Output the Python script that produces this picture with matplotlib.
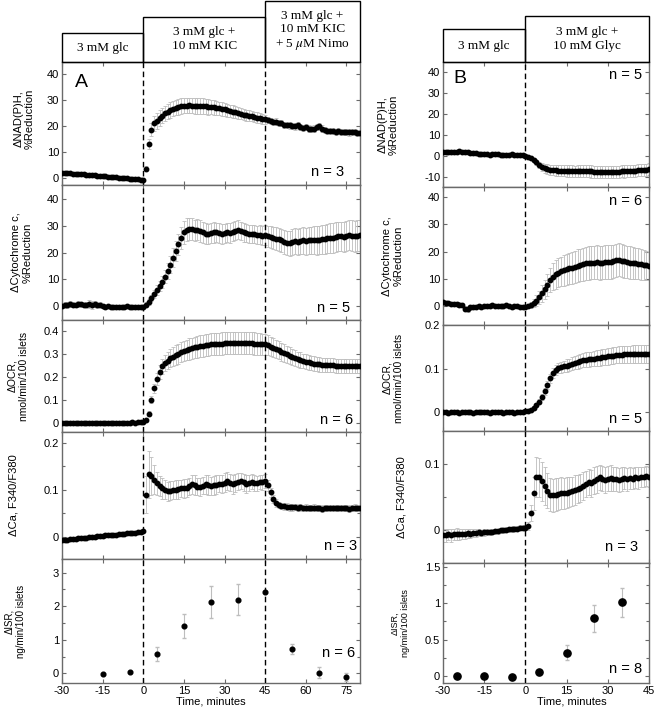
import numpy as np
import matplotlib
matplotlib.use("Agg")
import matplotlib.pyplot as plt
from matplotlib.patches import Rectangle
from matplotlib.ticker import FixedLocator, MultipleLocator
import matplotlib.transforms as mtransforms

plt.rcParams['font.family'] = ['Liberation Sans', 'DejaVu Sans']
plt.rcParams['mathtext.fontset'] = 'stix'

# ---------------- data: column A (glc + KIC, then Nimo) ----------------
time_A = np.arange(-30, 81)          # minutes, 1-min sampling
nadh_A = [2.0, 1.9, 1.9, 1.8, 1.7, 1.6, 1.6, 1.5, 1.4, 1.3,
          1.2, 1.1, 1.0, 0.9, 0.8, 0.7, 0.6, 0.5, 0.4, 0.3,
          0.2, 0.1, 0.0, -0.1, -0.2, -0.3, -0.3, -0.4, -0.5, -0.6,
          -0.7,
          3.5, 13.0, 18.5, 21.0, 22.0, 23.0, 24.0, 24.8, 25.5, 26.2,
          26.7, 27.1, 27.4, 27.6, 27.8, 27.8, 27.9, 27.8, 27.7, 27.7,
          27.6, 27.6, 27.5, 27.4, 27.3, 27.2, 27.0, 26.8, 26.6, 26.4,
          26.1, 25.8, 25.5, 25.2, 25.0, 24.7, 24.4, 24.2, 24.0, 23.8,
          23.5, 23.2, 23.0, 22.8, 22.5, 22.2, 21.8, 21.5, 21.7, 21.2,
          21.0, 20.5, 20.3, 20.2, 20.0, 19.8, 20.2, 19.5, 19.3, 19.5,
          19.0, 18.8, 19.0, 19.5, 19.8, 19.0, 18.5, 18.2, 18.0, 18.0,
          17.8, 18.0, 17.8, 17.6, 17.8, 17.5, 17.6, 17.8, 17.3, 17.2]
nadh_A_err = [0.4, 0.4, 0.4, 0.4, 0.4, 0.4, 0.4, 0.4, 0.4, 0.4,
              0.4, 0.4, 0.4, 0.4, 0.4, 0.4, 0.4, 0.4, 0.4, 0.4,
              0.4, 0.4, 0.4, 0.4, 0.4, 0.4, 0.4, 0.4, 0.4, 0.4,
              0.4,
              1.0, 2.0, 2.5, 2.8, 3.0, 3.0, 3.0, 3.0, 3.0, 3.0,
              3.0, 3.0, 3.0, 3.0, 3.0, 3.0, 3.0, 3.0, 3.0, 3.0,
              3.0, 3.0, 3.0, 3.0, 2.8, 2.8, 2.7, 2.6, 2.6, 2.5,
              2.5, 2.4, 2.4, 2.3, 2.3, 2.2, 2.2, 2.1, 2.1, 2.0,
              2.0, 2.0, 1.9, 1.9, 1.8, 1.2, 1.2, 1.2, 1.2, 1.2,
              1.2, 1.2, 1.2, 1.2, 1.2, 1.2, 1.2, 1.2, 1.2, 1.2,
              1.2, 1.2, 1.2, 1.2, 1.2, 1.2, 1.2, 1.2, 1.2, 1.2,
              1.2, 1.2, 1.2, 1.2, 1.2, 1.2, 1.2, 1.2, 1.2, 1.2]
cyt_A = [0.0, 0.5, 0.3, 0.8, 0.5, 0.3, 0.8, 0.6, 0.2, 0.5,
         0.8, 0.4, 0.6, 0.2, 0.5, 0.0, -0.3, -0.2, -0.5, -0.3,
         -0.5, -0.4, -0.3, -0.5, -0.2, -0.4, -0.6, -0.5, -0.4, -0.6,
         -0.5,
         0.5, 1.5, 3.0, 4.5, 6.0, 7.5, 9.0, 11.0, 13.0, 15.5,
         18.0, 20.5, 23.0, 25.5, 27.5, 28.5, 28.7, 28.8, 28.3, 28.5,
         28.0, 27.5, 27.0, 26.8, 27.2, 27.5, 27.5, 27.3, 27.0, 27.2,
         27.5, 27.3, 27.8, 28.2, 28.5, 28.0, 27.5, 27.3, 27.0, 27.0,
         26.8, 26.5, 26.7, 26.3, 26.5, 26.0, 25.8, 25.5, 25.2, 25.0,
         24.5, 24.0, 23.5, 23.5, 24.0, 24.2, 24.0, 24.3, 24.5, 24.2,
         24.5, 24.5, 24.7, 24.5, 24.8, 25.0, 25.0, 25.3, 25.5, 25.5,
         25.8, 26.0, 26.0, 25.8, 26.2, 26.5, 26.3, 26.0, 26.3, 26.5]
cyt_A_err = [0.8, 0.9, 1.0, 1.2, 1.0, 0.9, 1.1, 1.0, 0.8, 0.9,
             1.5, 1.4, 1.2, 1.0, 0.9, 0.8, 0.8, 0.7, 0.8, 0.7,
             0.7, 0.6, 0.7, 0.6, 0.6, 0.7, 0.6, 0.6, 0.6, 0.6,
             0.6,
             0.8, 1.0, 1.2, 1.5, 1.8, 2.0, 2.3, 2.6, 2.9, 3.2,
             3.5, 3.8, 4.0, 4.2, 4.3, 4.3, 4.2, 4.0, 4.0, 4.0,
             4.0, 3.9, 3.9, 3.8, 3.8, 3.8, 3.7, 3.7, 3.7, 3.6,
             3.6, 3.6, 3.5, 3.6, 3.6, 3.5, 3.5, 3.5, 3.4, 3.4,
             3.4, 3.4, 3.5, 3.6, 3.7, 3.9, 4.0, 4.1, 4.2, 4.3,
             4.4, 4.5, 4.6, 4.7, 4.8, 4.8, 4.9, 5.0, 5.0, 5.1,
             5.1, 5.2, 5.2, 5.3, 5.3, 5.4, 5.4, 5.5, 5.5, 5.5,
             5.6, 5.6, 5.6, 5.7, 5.7, 5.7, 5.8, 5.8, 5.8, 5.8]
ocr_A = [0.000, 0.001, -0.001, 0.000, 0.001, 0.000, -0.001, 0.000, 0.000, 0.001,
         0.000, -0.001, 0.000, 0.001, 0.000, 0.000, 0.001, -0.001, 0.000, 0.001,
         0.000, 0.001, 0.000, 0.000, 0.001, 0.001, 0.002, 0.001, 0.002, 0.003,
         0.005,
         0.010, 0.040, 0.100, 0.150, 0.190, 0.220, 0.245, 0.260, 0.270, 0.280,
         0.287, 0.294, 0.300, 0.306, 0.311, 0.316, 0.320, 0.324, 0.327, 0.330,
         0.333, 0.335, 0.337, 0.339, 0.340, 0.341, 0.342, 0.343, 0.344, 0.345,
         0.345, 0.346, 0.346, 0.346, 0.346, 0.346, 0.345, 0.345, 0.345, 0.345,
         0.344, 0.343, 0.342, 0.341, 0.340, 0.336, 0.331, 0.326, 0.320, 0.315,
         0.309, 0.303, 0.297, 0.291, 0.286, 0.281, 0.276, 0.272, 0.268, 0.265,
         0.262, 0.259, 0.257, 0.255, 0.253, 0.252, 0.251, 0.250, 0.249, 0.249,
         0.248, 0.248, 0.248, 0.248, 0.248, 0.248, 0.248, 0.248, 0.248, 0.248]
ocr_A_err = [0.003, 0.004, 0.003, 0.003, 0.004, 0.003, 0.003, 0.003, 0.004, 0.003,
             0.003, 0.004, 0.003, 0.003, 0.004, 0.003, 0.003, 0.003, 0.004, 0.003,
             0.003, 0.004, 0.003, 0.003, 0.004, 0.003, 0.003, 0.003, 0.004, 0.003,
             0.003,
             0.005, 0.010, 0.015, 0.020, 0.025, 0.030, 0.033, 0.036, 0.038, 0.040,
             0.041, 0.042, 0.043, 0.044, 0.045, 0.045, 0.046, 0.046, 0.047, 0.047,
             0.047, 0.048, 0.048, 0.048, 0.048, 0.048, 0.048, 0.048, 0.048, 0.048,
             0.048, 0.048, 0.048, 0.048, 0.048, 0.048, 0.048, 0.048, 0.048, 0.048,
             0.048, 0.047, 0.047, 0.046, 0.045, 0.044, 0.043, 0.042, 0.041, 0.040,
             0.039, 0.038, 0.037, 0.036, 0.035, 0.034, 0.033, 0.033, 0.032, 0.032,
             0.031, 0.031, 0.031, 0.031, 0.031, 0.030, 0.030, 0.030, 0.030, 0.030,
             0.030, 0.030, 0.030, 0.030, 0.030, 0.030, 0.030, 0.030, 0.030, 0.030]
ca_A = [-0.007, -0.007, -0.006, -0.005, -0.005, -0.004, -0.003, -0.003, -0.002, -0.002,
        -0.001, 0.000, 0.000, 0.001, 0.002, 0.002, 0.003, 0.003, 0.004, 0.004,
        0.005, 0.006, 0.006, 0.007, 0.008, 0.008, 0.009, 0.009, 0.010, 0.011,
        0.012,
        0.090, 0.133, 0.130, 0.122, 0.114, 0.108, 0.103, 0.100, 0.097, 0.098,
        0.099, 0.100, 0.101, 0.103, 0.103, 0.104, 0.108, 0.112, 0.110, 0.107,
        0.106, 0.109, 0.112, 0.110, 0.108, 0.110, 0.111, 0.113, 0.112, 0.115,
        0.118, 0.115, 0.112, 0.114, 0.117, 0.118, 0.116, 0.113, 0.115, 0.117,
        0.115, 0.114, 0.117, 0.116, 0.118, 0.110, 0.095, 0.080, 0.072, 0.068,
        0.066, 0.065, 0.064, 0.063, 0.063, 0.063, 0.062, 0.063, 0.062, 0.062,
        0.061, 0.061, 0.062, 0.061, 0.061, 0.060, 0.061, 0.062, 0.061, 0.061,
        0.062, 0.061, 0.061, 0.062, 0.061, 0.060, 0.061, 0.062, 0.061, 0.062]
ca_A_err = [0.002, 0.002, 0.002, 0.002, 0.002, 0.002, 0.002, 0.002, 0.002, 0.002,
            0.002, 0.002, 0.002, 0.002, 0.002, 0.002, 0.002, 0.002, 0.002, 0.002,
            0.002, 0.002, 0.002, 0.002, 0.002, 0.002, 0.002, 0.002, 0.002, 0.002,
            0.002,
            0.040, 0.050, 0.040, 0.030, 0.025, 0.022, 0.022, 0.020, 0.020, 0.020,
            0.019, 0.020, 0.021, 0.019, 0.020, 0.020, 0.018, 0.020, 0.021, 0.019,
            0.020, 0.018, 0.020, 0.021, 0.019, 0.020, 0.020, 0.018, 0.019, 0.020,
            0.019, 0.018, 0.020, 0.019, 0.018, 0.017, 0.018, 0.019, 0.017, 0.016,
            0.017, 0.016, 0.015, 0.016, 0.015, 0.012, 0.010, 0.008, 0.008, 0.007,
            0.007, 0.007, 0.007, 0.007, 0.007, 0.006, 0.007, 0.007, 0.006, 0.007,
            0.007, 0.006, 0.007, 0.007, 0.006, 0.007, 0.007, 0.006, 0.007, 0.007,
            0.006, 0.007, 0.007, 0.006, 0.007, 0.007, 0.006, 0.007, 0.007, 0.006]
isr_A_time = [-15, -5, 5, 15, 25, 35, 45, 55, 65, 75]
isr_A = [-0.03, 0.03, 0.58, 1.42, 2.12, 2.19, 2.43, 0.72, 0.02, -0.12]
isr_A_err = [0.02, 0.02, 0.20, 0.36, 0.48, 0.46, 0.02, 0.15, 0.17, 0.12]

# ---------------- data: column B (glc + Glyc) ----------------
time_B = np.arange(-30, 46)
nadh_B = [1.5, 1.6, 1.5, 1.8, 1.7, 1.9, 2.0, 1.8, 1.9, 1.5,
          1.4, 1.2, 1.0, 0.8, 0.5, 0.8, 0.6, 0.3, 0.5, 0.7,
          0.5, 0.4, 0.3, 0.2, 0.3, 0.5, 0.4, 0.3, 0.2, 0.1,
          0.0,
          -0.5, -1.3, -2.2, -3.3, -4.5, -5.3, -6.0, -6.5, -6.8, -7.0,
          -7.1, -7.2, -7.3, -7.3, -7.4, -7.3, -7.4, -7.5, -7.4, -7.3,
          -7.2, -7.3, -7.4, -7.6, -7.8, -8.0, -8.0, -7.9, -8.0, -7.9,
          -7.8, -7.9, -7.8, -7.7, -7.5, -7.6, -7.5, -7.4, -7.3, -7.2,
          -7.0, -6.9, -6.8, -6.7, -6.5]
nadh_B_err = [0.5, 0.5, 0.6, 0.5, 0.5, 0.6, 0.5, 0.5, 0.6, 0.5,
              0.5, 0.6, 0.5, 0.5, 0.6, 0.5, 0.5, 0.6, 0.5, 0.5,
              0.5, 0.5, 0.5, 0.5, 0.5, 0.5, 0.5, 0.5, 0.5, 0.5,
              0.5,
              0.6, 0.8, 1.0, 1.3, 1.6, 1.9, 2.1, 2.3, 2.4, 2.5,
              2.5, 2.6, 2.6, 2.6, 2.7, 2.7, 2.7, 2.7, 2.8, 2.8,
              2.8, 2.8, 2.8, 2.9, 2.9, 2.9, 2.9, 2.9, 2.9, 2.9,
              2.9, 2.9, 2.9, 2.9, 2.9, 2.9, 2.9, 2.9, 2.9, 2.9,
              2.9, 2.9, 2.9, 2.9, 2.9]
cyt_B = [1.5, 1.2, 1.0, 0.8, 0.7, 0.8, 0.5, 0.3, -1.0, -1.2,
         -0.5, -0.3, -0.2, 0.0, -0.2, 0.1, 0.0, -0.1, 0.2, 0.0,
         0.1, -0.1, 0.0, 0.2, 0.1, -0.2, 0.0, -0.1, -0.3, -0.4,
         -0.3,
         0.0, 0.4, 1.0, 2.0, 3.2, 4.6, 6.2, 7.8, 9.5, 10.8,
         11.6, 12.2, 12.7, 13.1, 13.5, 13.8, 14.1, 14.4, 14.8, 15.1,
         15.4, 15.7, 15.8, 16.0, 16.0, 16.1, 15.9, 16.0, 16.2, 16.3,
         16.1, 16.4, 16.8, 17.0, 16.7, 16.4, 16.2, 16.0, 15.8, 15.7,
         15.5, 15.3, 15.2, 15.0, 14.7]
cyt_B_err = [0.8, 0.8, 0.7, 0.8, 0.8, 0.7, 0.8, 0.8, 0.9, 0.9,
             0.8, 0.7, 0.7, 0.6, 0.6, 0.6, 0.5, 0.5, 0.5, 0.5,
             0.5, 0.5, 0.5, 0.5, 0.5, 0.5, 0.5, 0.5, 0.5, 0.5,
             0.5,
             0.5, 1.0, 1.5, 2.0, 2.5, 3.0, 3.5, 4.0, 4.5, 5.0,
             5.2, 5.3, 5.5, 5.6, 5.7, 5.8, 5.9, 6.0, 6.0, 6.0,
             6.1, 6.1, 6.1, 6.2, 6.2, 6.2, 6.2, 6.2, 6.2, 6.2,
             6.2, 6.2, 6.2, 6.1, 6.1, 6.0, 6.0, 5.9, 5.8, 5.8,
             5.7, 5.6, 5.5, 5.4, 5.3]
ocr_B = [0.000, 0.001, -0.001, 0.000, 0.001, 0.000, -0.001, 0.000, 0.000, 0.001,
         0.000, -0.001, 0.000, 0.000, 0.001, 0.000, 0.000, -0.001, 0.000, 0.001,
         0.000, 0.000, -0.001, 0.000, 0.000, 0.001, -0.001, 0.000, 0.000, 0.001,
         0.002,
         0.003, 0.006, 0.010, 0.016, 0.024, 0.035, 0.048, 0.063, 0.078, 0.090,
         0.097, 0.101, 0.103, 0.105, 0.107, 0.109, 0.111, 0.113, 0.115, 0.117,
         0.119, 0.120, 0.121, 0.122, 0.123, 0.124, 0.125, 0.126, 0.127, 0.128,
         0.129, 0.130, 0.131, 0.132, 0.132, 0.133, 0.133, 0.133, 0.134, 0.134,
         0.134, 0.134, 0.134, 0.134, 0.134]
ocr_B_err = [0.001, 0.001, 0.001, 0.001, 0.001, 0.001, 0.001, 0.001, 0.001, 0.001,
             0.001, 0.001, 0.001, 0.001, 0.001, 0.001, 0.001, 0.001, 0.001, 0.001,
             0.001, 0.001, 0.001, 0.001, 0.001, 0.001, 0.001, 0.001, 0.001, 0.001,
             0.001,
             0.002, 0.003, 0.004, 0.005, 0.006, 0.007, 0.008, 0.009, 0.010, 0.011,
             0.012, 0.012, 0.013, 0.013, 0.014, 0.014, 0.015, 0.015, 0.016, 0.016,
             0.016, 0.017, 0.017, 0.017, 0.018, 0.018, 0.018, 0.018, 0.019, 0.019,
             0.019, 0.019, 0.019, 0.020, 0.020, 0.020, 0.020, 0.020, 0.020, 0.020,
             0.020, 0.020, 0.020, 0.020, 0.020]
ca_B = [-0.008, -0.008, -0.007, -0.008, -0.007, -0.006, -0.007, -0.006, -0.006, -0.005,
        -0.006, -0.005, -0.005, -0.004, -0.005, -0.004, -0.003, -0.004, -0.003, -0.002,
        -0.002, -0.001, -0.001, 0.000, 0.001, 0.001, 0.002, 0.002, 0.003, 0.003,
        0.003,
        0.006, 0.025, 0.055, 0.080, 0.079, 0.073, 0.066, 0.059, 0.053, 0.052,
        0.053, 0.054, 0.055, 0.055, 0.056, 0.057, 0.058, 0.060, 0.061, 0.063,
        0.066, 0.069, 0.072, 0.070, 0.074, 0.076, 0.079, 0.077, 0.075, 0.077,
        0.078, 0.076, 0.077, 0.075, 0.077, 0.078, 0.076, 0.078, 0.077, 0.079,
        0.078, 0.080, 0.079, 0.081, 0.080]
ca_B_err = [0.010, 0.010, 0.009, 0.010, 0.009, 0.009, 0.008, 0.008, 0.008, 0.007,
            0.007, 0.006, 0.006, 0.006, 0.005, 0.005, 0.005, 0.004, 0.004, 0.004,
            0.004, 0.004, 0.004, 0.004, 0.004, 0.004, 0.004, 0.004, 0.004, 0.004,
            0.004,
            0.006, 0.012, 0.025, 0.030, 0.030, 0.030, 0.028, 0.026, 0.025, 0.025,
            0.025, 0.024, 0.024, 0.023, 0.023, 0.022, 0.022, 0.022, 0.021, 0.021,
            0.021, 0.020, 0.020, 0.020, 0.020, 0.020, 0.019, 0.019, 0.019, 0.019,
            0.019, 0.018, 0.018, 0.018, 0.018, 0.017, 0.017, 0.017, 0.016, 0.016,
            0.016, 0.015, 0.015, 0.015, 0.015]
isr_B_time = [-25, -15, -5, 5, 15, 25, 35]
isr_B = [0.0, 0.0, -0.02, 0.05, 0.32, 0.79, 1.01]
isr_B_err = [0.02, 0.02, 0.02, 0.03, 0.10, 0.18, 0.20]

# ---------------- labels ----------------
ylabels = ["\u0394NAD(P)H,\n%Reduction", "\u0394Cytochrome c,\n%Reduction",
           "\u0394OCR,\nnmol/min/100 islets", "\u0394Ca, F340/F380",
           "\u0394ISR,\nng/min/100 islets"]
n_A = ["n = 3", "n = 5", "n = 6", "n = 3", "n = 6"]
n_B = ["n = 5", "n = 6", "n = 5", "n = 3", "n = 8"]
cond_A = [(-30, 0, "3 mM glc"), (0, 45, "3 mM glc +\n10 mM KIC"),
          (45, 80, "3 mM glc +\n10 mM KIC\n+ 5 $\\mu$M Nimo")]
cond_B = [(-30, 0, "3 mM glc"), (0, 45, "3 mM glc +\n10 mM Glyc")]
xticks_A = [-30, -15, 0, 15, 30, 45, 60, 75]
xticks_B = [-30, -15, 0, 15, 30, 45]

# ---------------- layout (pixels) ----------------
W, H = 656, 708
fig = plt.figure(figsize=(W / 100, H / 100), dpi=100)

def px_axes(x0, x1, ytop, ybot):
    return fig.add_axes([x0 / W, 1 - ybot / H, (x1 - x0) / W, (ybot - ytop) / H])

rows_A = [(62, 185), (185, 320), (320, 432), (432, 559), (559, 683)]
rows_B = [(62, 187), (187, 325), (325, 431), (431, 563), (563, 683)]
xA = (62, 360)
xB = (443, 649)

ylims_A = [(-2.7, 44.6), (-5.3, 45.3), (-0.04, 0.446), (-0.047, 0.223), (-0.29, 3.41)]
ylims_B = [(-15, 44.6), (-7, 43.8), (-0.043, 0.2), (-0.05, 0.149), (-0.096, 1.55)]
yticks_A = [[0, 10, 20, 30, 40], [0, 10, 20, 30, 40], [0, 0.1, 0.2, 0.3, 0.4],
            [0, 0.1, 0.2], [0, 1, 2, 3]]
yticks_B = [[-10, 0, 10, 20, 30, 40], [0, 10, 20, 30, 40], [0, 0.1, 0.2],
            [0, 0.1], [0, 0.5, 1, 1.5]]
yminor_A = [None, None, None, 0.05, 0.5]
yminor_B = [None, None, None, 0.05, 0.25]

SP = '#6a6a6a'
ERR = '#bdbdbd'

def style(ax, xlim, xticks, yl, yt, minor, bottom):
    ax.set_xlim(*xlim)
    ax.set_ylim(*yl)
    ax.xaxis.set_major_locator(FixedLocator(xticks))
    ax.set_yticks(yt)
    ax.set_yticklabels([('%g' % v) for v in yt])
    if minor:
        ax.yaxis.set_minor_locator(MultipleLocator(minor))
    if bottom:
        ax.set_xticklabels([('%g' % v) for v in xticks])
    else:
        ax.set_xticklabels([])
    ax.tick_params(direction='in', top=True, right=True, length=3, width=0.8,
                   color=SP, labelsize=8, pad=2)
    ax.tick_params(which='minor', direction='in', top=True, right=True,
                   length=2, width=0.8, color=SP)
    for s in ax.spines.values():
        s.set_color(SP)
        s.set_linewidth(1.0)

def series(ax, t, y, e):
    ax.errorbar(t, y, yerr=e, fmt='none', ecolor=ERR, elinewidth=0.6,
                capsize=1.2, capthick=0.6, zorder=2)
    ax.plot(t, y, 'o', color='black', ms=3.2, mec='black', zorder=3)

data_A = [(nadh_A, nadh_A_err), (cyt_A, cyt_A_err), (ocr_A, ocr_A_err), (ca_A, ca_A_err)]
data_B = [(nadh_B, nadh_B_err), (cyt_B, cyt_B_err), (ocr_B, ocr_B_err), (ca_B, ca_B_err)]

# n-label positions (axes fraction)
npos_A = [(0.948, 0.108), (0.967, 0.087), (0.977, 0.107), (0.99, 0.10), (0.983, 0.24)]
npos_B = [(0.965, 0.896), (0.965, 0.90), (0.965, 0.11), (0.947, 0.123), (0.965, 0.12)]
ylab_x_A = [24, 22, 18, 14, 15]
ylab_x_B = [388, 393, 393, 401, 400]
ylab_fs = [8, 8, 7.5, 8, 7]

axes_A, axes_B = [], []
for i in range(5):
    ax = px_axes(xA[0], xA[1], *rows_A[i])
    style(ax, (-30, 80), xticks_A, ylims_A[i], yticks_A[i], yminor_A[i], i == 4)
    if i < 4:
        series(ax, time_A, data_A[i][0], data_A[i][1])
    else:
        ax.errorbar(isr_A_time, isr_A, yerr=isr_A_err, fmt='o', color='black',
                    ms=3.4, ecolor=ERR, elinewidth=0.8, capsize=1.5, zorder=3)
    for xv in (0, 45):
        ax.axvline(xv, color='black', lw=1.0, ls=(0, (4, 2.5)), zorder=4)
    ax.text(npos_A[i][0], npos_A[i][1], n_A[i], transform=ax.transAxes,
            ha='right', va='center', fontsize=10.5)
    yc = (rows_A[i][0] + rows_A[i][1]) / 2 - (5 if i == 0 else 0)
    fig.text(ylab_x_A[i] / W, 1 - yc / H, ylabels[i], rotation=90,
             ha='center', va='center', fontsize=ylab_fs[i], linespacing=1.15)
    axes_A.append(ax)

for i in range(5):
    ax = px_axes(xB[0], xB[1], *rows_B[i])
    style(ax, (-30, 45), xticks_B, ylims_B[i], yticks_B[i], yminor_B[i], i == 4)
    if i < 4:
        series(ax, time_B, data_B[i][0], data_B[i][1])
    else:
        ax.errorbar(isr_B_time, isr_B, yerr=isr_B_err, fmt='o', color='black',
                    ms=5.2, ecolor=ERR, elinewidth=0.8, capsize=1.5, zorder=3)
    ax.axvline(0, color='black', lw=1.0, ls=(0, (4, 2.5)), zorder=4)
    ax.text(npos_B[i][0], npos_B[i][1], n_B[i], transform=ax.transAxes,
            ha='right', va='center', fontsize=10.5)
    yc = (rows_B[i][0] + rows_B[i][1]) / 2
    fig.text(ylab_x_B[i] / W, 1 - yc / H, ylabels[i], rotation=90,
             ha='center', va='center', fontsize=ylab_fs[i] if i < 4 else 6.5,
             linespacing=1.15)
    axes_B.append(ax)

axes_A[0].text(0.064, 0.83, "A", transform=axes_A[0].transAxes, fontsize=14,
               ha='center', va='center')
axes_B[0].text(0.082, 0.87, "B", transform=axes_B[0].transAxes, fontsize=14,
               ha='center', va='center')

fig.text(211 / W, 1 - 702 / H, "Time, minutes", ha='center', va='center', fontsize=8)
fig.text(572 / W, 1 - 702 / H, "Time, minutes", ha='center', va='center', fontsize=8)

# ---------------- condition header boxes ----------------
def headers(ax, conds, tops, text_y):
    tr = mtransforms.blended_transform_factory(ax.transData, fig.transFigure)
    ybot = 1 - 62 / H
    for (a, b, label), top, ty in zip(conds, tops, text_y):
        ytop = 1 - top / H
        r = Rectangle((a, ybot), b - a, ytop - ybot, transform=tr, fill=False,
                      edgecolor='black', lw=1.0, clip_on=False)
        fig.add_artist(r)
        ax.text((a + b) / 2, 1 - ty / H, label, transform=tr, ha='center',
                va='center', fontsize=9.5, family=['Liberation Serif', 'DejaVu Serif'],
                linespacing=1.2, clip_on=False)

headers(axes_A[0], cond_A, [33, 17, 1], [47.5, 39, 31])
headers(axes_B[0], cond_B, [29, 16], [46, 39])

fig.savefig("out.png", dpi=100)
